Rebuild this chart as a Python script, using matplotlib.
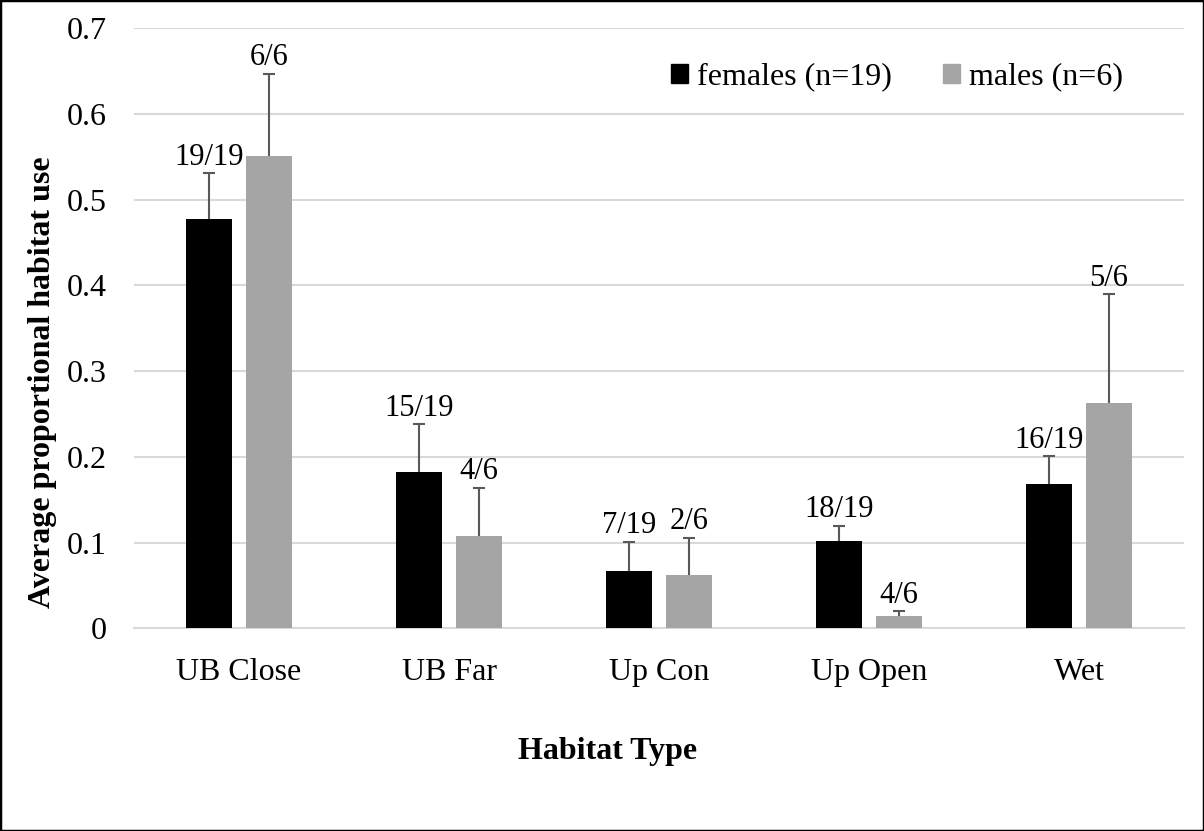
import matplotlib
matplotlib.use("Agg")
import matplotlib.pyplot as plt
import numpy as np
from matplotlib.patches import Rectangle, Patch

plt.rcParams['font.family'] = ['Liberation Serif', 'DejaVu Serif']

habitats = ["UB Close", "UB Far", "Up Con", "Up Open", "Wet"]
females = [0.477, 0.183, 0.067, 0.102, 0.169]
females_err = [0.054, 0.055, 0.034, 0.018, 0.032]
males = [0.551, 0.108, 0.062, 0.014, 0.263]
males_err = [0.096, 0.056, 0.044, 0.006, 0.127]
female_counts = ["19/19", "15/19", "7/19", "18/19", "16/19"]
male_counts = ["6/6", "4/6", "2/6", "4/6", "5/6"]
series_names = ["females (n=19)", "males (n=6)"]

FS = 23
LABEL_FS = 22
fig = plt.figure(figsize=(12.04, 8.31), dpi=100)
ax = fig.add_axes([134 / 1204, 1 - 628.4 / 831, 1050 / 1204, 600.1 / 831])

x = np.arange(len(habitats))
w = 0.222
off = 0.142
err_kw = dict(ecolor="#595959", elinewidth=1.5, capsize=4, capthick=1.5)

ax.bar(x - off, females, w, color="black", zorder=3)
ax.bar(x + off, males, w, color="#a5a5a5", zorder=3)
for xs, vals, errs in [(x - off, females, females_err), (x + off, males, males_err)]:
    eb = ax.errorbar(xs, vals, yerr=[np.zeros(len(vals)), errs], fmt="none", zorder=4, **err_kw)
    # only the upper half of each error bar carries a cap
    eb[1][0].set_visible(False)

for xs, vals, errs, labs in [(x - off, females, females_err, female_counts),
                             (x + off, males, males_err, male_counts)]:
    for xi, v, e, lab in zip(xs, vals, errs, labs):
        ax.annotate(lab, (xi, v + e), xytext=(0, 6), textcoords="offset points",
                    ha="center", va="baseline", fontsize=LABEL_FS)

ax.set_xlim(-0.5, len(habitats) - 0.5)
ax.set_ylim(0, 0.7)
ax.set_yticks(np.arange(0, 0.71, 0.1))
ax.set_yticklabels(["0"] + [f"{t:.1f}" for t in np.arange(0.1, 0.71, 0.1)])
ax.set_xticks(x)
ax.set_xticklabels(habitats)
ax.tick_params(axis="both", length=0, labelsize=FS)
ax.tick_params(axis="y", pad=19.5)
ax.tick_params(axis="x", pad=21)
ax.grid(axis="y", color="#d9d9d9", lw=1.5, zorder=0)
ax.set_axisbelow(True)
for s in ["left", "right", "top"]:
    ax.spines[s].set_visible(False)
ax.spines["bottom"].set_color("#d9d9d9")
ax.spines["bottom"].set_linewidth(1.5)

fig.text(43 / 1204, 1 - 382 / 831, "Average proportional habitat use", rotation=90,
         ha="center", va="center", fontsize=FS, fontweight="bold")
fig.text(608 / 1204, 1 - 752 / 831, "Habitat Type", ha="center", va="center",
         fontsize=FS, fontweight="bold")

handles = [Patch(color="black"), Patch(color="#a5a5a5")]
fig.legend(handles, series_names, loc="center left", bbox_to_anchor=(671 / 1204, 1 - 77 / 831),
           ncol=2, frameon=False, fontsize=FS, handlelength=0.53, handleheight=0.53,
           handletextpad=0.28, columnspacing=1.6, borderaxespad=0, borderpad=0)

fig.patches.append(Rectangle((0, 0), 1, 1, transform=fig.transFigure, fill=False,
                             edgecolor="black", lw=2.5))

fig.savefig("out.png", dpi=100)
